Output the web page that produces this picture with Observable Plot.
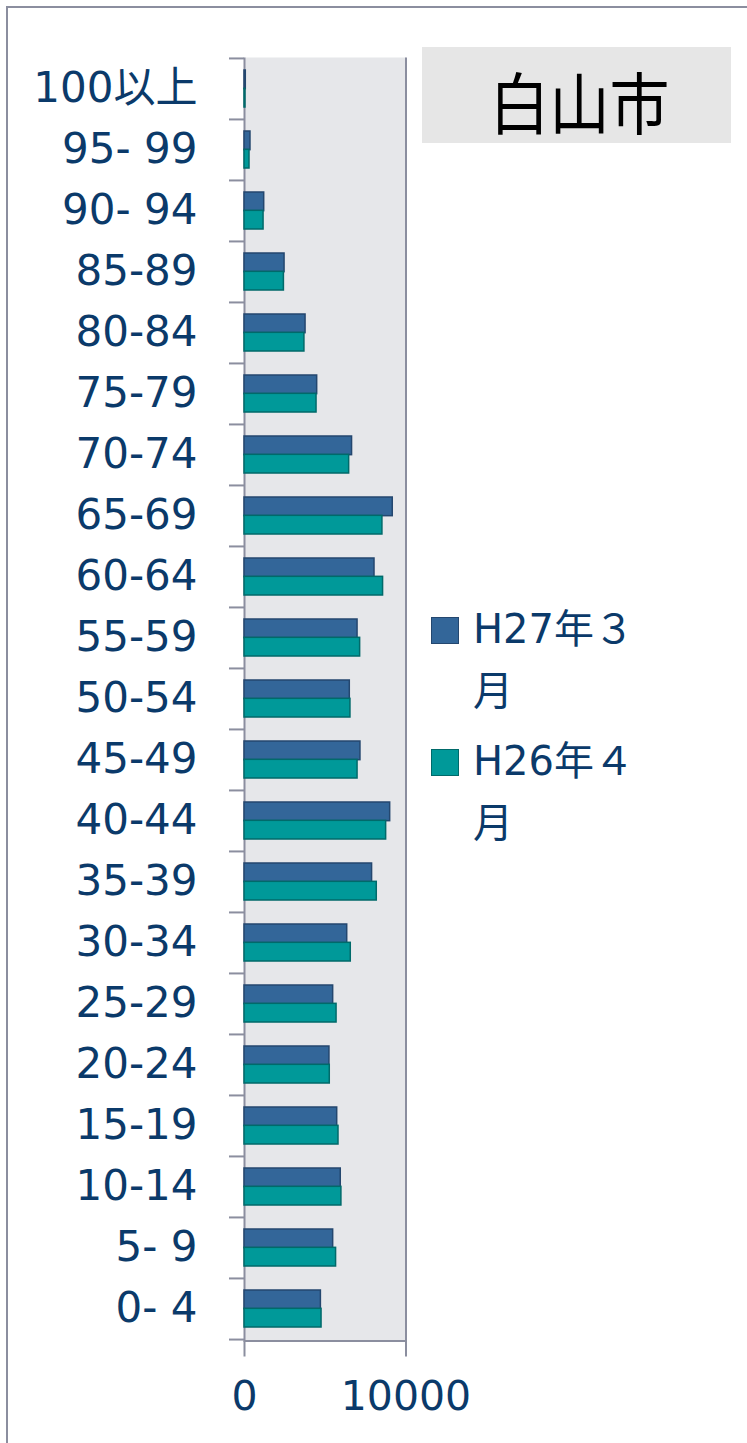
<!DOCTYPE html>
<html>
<head>
<meta charset="utf-8">
<script src="https://cdn.jsdelivr.net/npm/d3@7"></script>
<script src="https://cdn.jsdelivr.net/npm/@observablehq/plot@0.6"></script>
<style>
  html, body { margin: 0; padding: 0; background: #fff; }
  body { width: 747px; height: 1443px; position: relative; overflow: hidden;
         font-family: "DejaVu Sans", "Noto Sans CJK JP", sans-serif; }
  #border { position: absolute; left: 6px; top: 6px; width: 800px; height: 1500px;
            border-left: 2px solid #8b8e9f; border-top: 2px solid #8b8e9f; }
  #chart { position: absolute; left: 0; top: 0; }
  #title { position: absolute; left: 422px; top: 47px; width: 309px; height: 96px; background: #e6e6e6;
           display: flex; align-items: center; justify-content: center;
           font-family: "Noto Sans CJK JP", sans-serif; font-size: 60px; color: #000; }
  #title span { position: relative; top: 4px; left: 3px; display: inline-block; transform: scaleY(1.12); }
  .sw { position: absolute; left: 431px; width: 26px; height: 25px; }
  .lt { position: absolute; left: 473px; font-size: 40px; line-height: 40px; color: #0b3a6a; white-space: nowrap; }
</style>
</head>
<body>
<div id="border"></div>
<div id="chart"></div>
<div id="title"><span>白山市</span></div>
<div id="legend"></div>
<script>
const ages = ["100以上","95- 99","90- 94","85-89","80-84","75-79","70-74","65-69","60-64","55-59","50-54",
              "45-49","40-44","35-39","30-34","25-29","20-24","15-19","10-14","5- 9","0- 4"];
const h27 = [80, 370, 1220, 2480, 3780, 4500, 6660, 9180, 8050, 7000, 6520,
             7180, 9020, 7900, 6360, 5490, 5260, 5740, 5960, 5490, 4730];
const h26 = [60, 310, 1180, 2440, 3710, 4460, 6480, 8540, 8580, 7160, 6560,
             7000, 8770, 8190, 6580, 5700, 5280, 5820, 6000, 5670, 4770];
const seriesNames = ["H27年３月", "H26年４月"];
const seriesColors = ["#336699", "#009999"];
const seriesStrokes = ["#24476f", "#006a6a"];
const xTicks = [0, 10000];

const rows = ages.map((a, i) => ({age: a, h27: h27[i], h26: h26[i]}));

const W = 747, H = 1443;
const mL = 244, mR = W - 405.5, mT = 57, mB = H - 1340.5;
const step = (H - mT - mB) / ages.length;
const bw = step * 0.6;
const axisColor = "#8b8e9f";
const textColor = "#0b3a6a";
const pw = W - mL - mR, ph = H - mT - mB;

const chart = Plot.plot({
  width: W, height: H,
  marginLeft: mL, marginRight: mR, marginTop: mT, marginBottom: mB,
  style: {fontFamily: '"DejaVu Sans", "Noto Sans CJK JP", sans-serif', color: textColor, background: "transparent", overflow: "visible"},
  x: {domain: [0, 10000]},
  y: {domain: ages, paddingInner: 0.4, paddingOuter: 0.2},
  marks: [
    Plot.frame({fill: "#e6e7ea", stroke: axisColor, strokeWidth: 2, strokeDasharray: `0 ${pw} ${2 * ph + pw} 0`}),
    Plot.barX(rows, {y: "age", x: "h27", fill: seriesColors[0], stroke: seriesStrokes[0], strokeWidth: 1.5, insetBottom: bw / 2}),
    Plot.barX(rows, {y: "age", x: "h26", fill: seriesColors[1], stroke: seriesStrokes[1], strokeWidth: 1.5, insetTop: bw / 2}),
    Plot.axisX({ticks: xTicks, tickSize: 16, tickPadding: 24, fontSize: 41, tickFormat: d => String(d), label: null, stroke: axisColor, strokeWidth: 2, fill: textColor}),
    Plot.axisY({tickSize: 0, tickPadding: 47, fontSize: 42, label: null, fill: textColor}),
    Plot.axisY({tickSize: 15, tickFormat: () => "", dy: -step / 2, label: null, stroke: axisColor, strokeWidth: 2}),
    Plot.axisY({ticks: [ages[ages.length - 1]], tickSize: 15, tickFormat: () => "", dy: step / 2, label: null, stroke: axisColor, strokeWidth: 2})
  ]
});
document.getElementById("chart").appendChild(chart);

const legend = document.getElementById("legend");
const swTops = [617, 749];
seriesNames.forEach((name, i) => {
  const sw = document.createElement("div");
  sw.className = "sw";
  sw.style.top = swTops[i] + "px";
  sw.style.background = seriesColors[i];
  sw.style.border = "1px solid " + seriesStrokes[i];
  legend.appendChild(sw);
  const l1 = document.createElement("div");
  l1.className = "lt";
  l1.style.top = (swTops[i] - 8) + "px";
  l1.textContent = name.slice(0, -1);
  legend.appendChild(l1);
  const l2 = document.createElement("div");
  l2.className = "lt";
  l2.style.top = (swTops[i] + 54) + "px";
  l2.textContent = name.slice(-1);
  legend.appendChild(l2);
});
</script>
</body>
</html>
